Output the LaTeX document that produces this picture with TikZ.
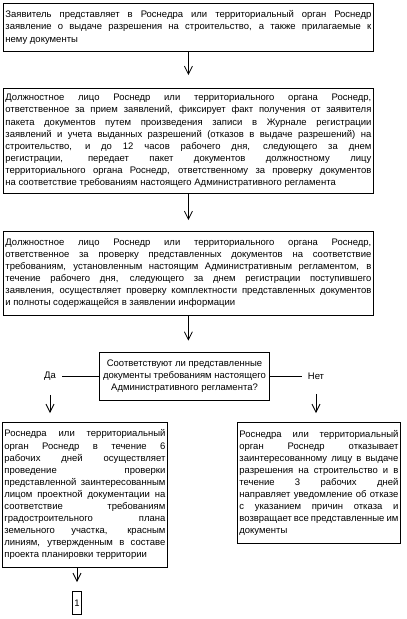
\documentclass[tikz,border=0pt]{standalone}
\usepackage{fontspec}
\setmainfont{Liberation Sans}
\usetikzlibrary{arrows.meta}
\tolerance=10000 \hyphenpenalty=10000
\newcommand{\flowfont}{\fontsize{9.5}{12.1}\selectfont}
\tikzset{
  stepbox/.style={draw,line width=0.8pt,inner xsep=2pt,inner ysep=0pt,anchor=north west,align=justify,font=\flowfont},
  flowarrow/.style={line width=0.8pt,-{Straight Barb[length=8pt,width=8pt,sep=3pt]}},
}

\begin{document}
\begin{tikzpicture}[x=1pt,y=-1pt,line cap=butt]
  \useasboundingbox (0,0) rectangle (407,619);
  % upper part: three steps one below another
  \node[stepbox,text width=366pt,minimum height=48pt] (apply) at (3,3) {Заявитель представляет в Роснедра или территориальный орган Роснедр\linebreak
    заявление о выдаче разрешения на строительство, а также прилагаемые к\linebreak
    нему документы};
  \node[stepbox,text width=366pt,minimum height=105pt] (register) at (3,88) {Должностное лицо Роснедр или территориального органа Роснедр,\linebreak
    ответственное за прием заявлений, фиксирует факт получения от заявителя\linebreak
    пакета документов путем произведения записи в Журнале регистрации\linebreak
    заявлений и учета выданных разрешений (отказов в выдаче разрешений) на\linebreak
    строительство, и до 12 часов рабочего дня, следующего за днем\linebreak
    регистрации, передает пакет документов должностному лицу\linebreak
    территориального органа Роснедр, ответственному за проверку документов\linebreak
    на соответствие требованиям настоящего Административного регламента};
  \node[stepbox,text width=366pt,minimum height=84pt] (check) at (3,231) {Должностное лицо Роснедр или территориального органа Роснедр,\linebreak
    ответственное за проверку представленных документов на соответствие\linebreak
    требованиям, установленным настоящим Административным регламентом, в\linebreak
    течение рабочего дня, следующего за днем регистрации поступившего\linebreak
    заявления, осуществляет проверку комплектности представленных документов\linebreak
    и полноты содержащейся в заявлении информации};
  % the question and its two answers
  \node[draw,line width=0.8pt,align=center,font=\flowfont,minimum width=165pt,minimum height=48pt] (question) at (184.5,376) {Соответствуют ли представленные\\
    документы требованиям настоящего\\
    Административного регламента?};
  \node[font=\flowfont,inner xsep=6pt] (yes) at (50,376) {Да};
  \node[font=\flowfont,inner xsep=6pt] (no) at (316,376) {Нет};
  \node[stepbox,text width=161pt,minimum height=145pt] (approve) at (2,422) {Роснедра или территориальный\linebreak
    орган Роснедр в течение 6\linebreak
    рабочих дней осуществляет\linebreak
    проведение проверки\linebreak
    представленной заинтересованным\linebreak
    лицом проектной документации на\linebreak
    соответствие требованиям\linebreak
    градостроительного плана\linebreak
    земельного участка, красным\linebreak
    линиям, утвержденным в составе\linebreak
    проекта планировки территории};
  \node[stepbox,text width=159pt,minimum height=121pt] (refuse) at (237,422) {Роснедра или территориальный\linebreak
    орган Роснедр отказывает\linebreak
    заинтересованному лицу в выдаче\linebreak
    разрешения на строительство и в\linebreak
    течение 3 рабочих дней\linebreak
    направляет уведомление об отказе\linebreak
    с указанием причин отказа и\linebreak
    возвращает все представленные им\linebreak
    документы};
  \node[draw,line width=0.8pt,font=\flowfont,inner sep=0pt,minimum width=8.5pt,minimum height=23pt,anchor=north] (next) at (77,591) {1};

  % ends of the arrows, a little above each box
  \path (register.north) ++(0,-10) coordinate (toregister);
  \path (check.north) ++(0,-8) coordinate (tocheck);
  \path (check.south |- question.north) ++(0,-8) coordinate (toquestion);
  \path (yes |- approve.north) ++(0,-6) coordinate (toapprove);
  \path (no |- refuse.north) ++(0,-6) coordinate (torefuse);
  \path (next.north) ++(0,-6) coordinate (tonext);

  \draw[flowarrow] (apply.south) -- (toregister);
  \draw[flowarrow] (register.south) -- (tocheck);
  \draw[flowarrow] (check.south) -- (toquestion);
  \draw[line width=0.8pt] (yes) -- (question);
  \draw[line width=0.8pt] (no) -- (question);
  \draw[flowarrow,shorten <=11pt] (yes) -- (toapprove);
  \draw[flowarrow,shorten <=11pt] (no) -- (torefuse);
  \draw[flowarrow] (approve.south -| next.north) -- (tonext);
\end{tikzpicture}
\end{document}
